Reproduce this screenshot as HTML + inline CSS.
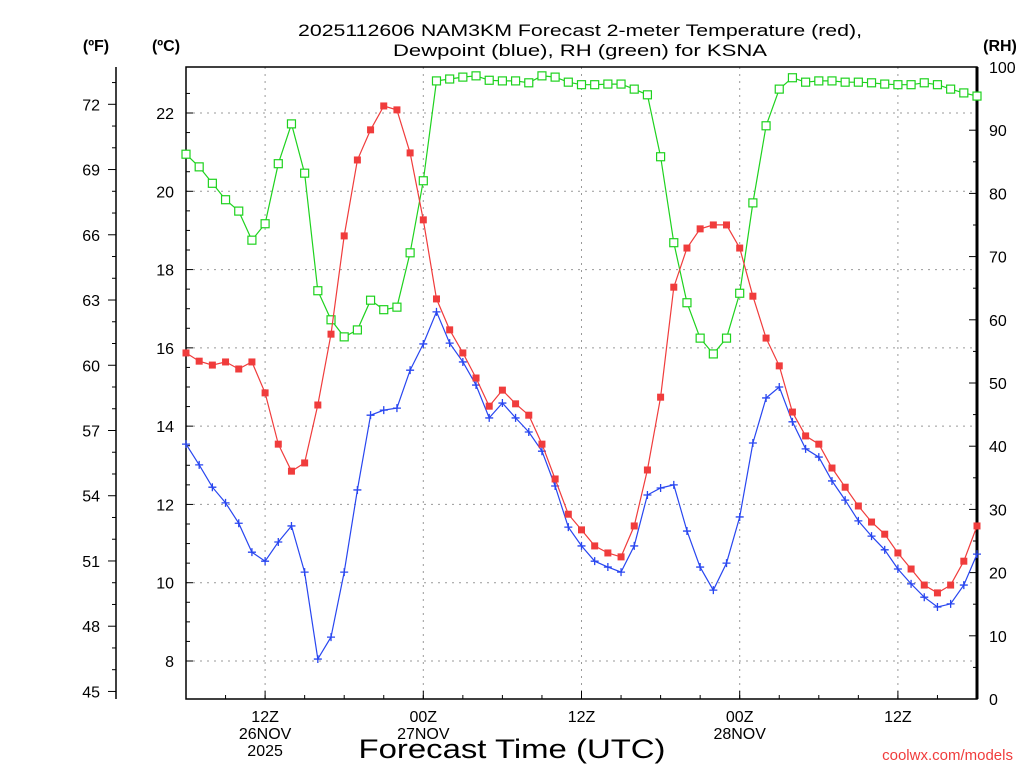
<!DOCTYPE html>
<html><head><meta charset="utf-8"><style>
body{margin:0;background:#fff;}
svg text{font-family:"Liberation Sans",sans-serif;}
</style></head><body>
<svg id="c" width="1024" height="768" xmlns="http://www.w3.org/2000/svg">
<text x="580" y="36" text-anchor="middle" font-size="17" textLength="564" lengthAdjust="spacingAndGlyphs">2025112606 NAM3KM Forecast 2-meter Temperature (red),</text>
<text x="580" y="56" text-anchor="middle" font-size="17" textLength="374" lengthAdjust="spacingAndGlyphs">Dewpoint (blue), RH (green) for KSNA</text>
<text x="96" y="51" text-anchor="middle" font-size="16" font-weight="bold">(ºF)</text>
<text x="166" y="51" text-anchor="middle" font-size="16" font-weight="bold">(ºC)</text>
<text x="1000" y="51" text-anchor="middle" font-size="16" font-weight="bold">(RH)</text>
<text x="512" y="758" text-anchor="middle" font-size="27" textLength="307" lengthAdjust="spacingAndGlyphs">Forecast Time (UTC)</text>
<text x="1013" y="760" text-anchor="end" font-size="15" fill="#f03c3c">coolwx.com/models</text>
<g id="grid"></g><g id="axes"></g><g id="series"></g>
</svg>
<script>
const hours=[];for(let i=0;i<=60;i++)hours.push(i);
const tempC=[15.87,15.66,15.56,15.64,15.46,15.64,14.85,13.54,12.85,13.06,14.54,16.35,18.86,20.8,21.57,22.18,22.08,20.98,19.27,17.25,16.46,15.87,15.23,14.51,14.92,14.57,14.28,13.54,12.65,11.75,11.35,10.94,10.76,10.66,11.45,12.88,14.74,17.55,18.55,19.04,19.14,19.14,18.55,17.32,16.25,15.54,14.36,13.75,13.54,12.93,12.44,11.96,11.55,11.24,10.76,10.35,9.94,9.74,9.94,10.55,11.45];
const dewC=[13.54,13.01,12.44,12.04,11.52,10.78,10.55,11.04,11.45,10.27,8.05,8.61,10.27,12.37,14.28,14.41,14.46,15.43,16.1,16.92,16.12,15.64,15.05,14.21,14.59,14.21,13.85,13.36,12.47,11.42,10.94,10.55,10.4,10.27,10.94,12.24,12.42,12.5,11.32,10.4,9.81,10.5,11.68,13.57,14.72,15.0,14.11,13.42,13.21,12.6,12.11,11.58,11.19,10.84,10.35,9.97,9.63,9.38,9.46,9.94,10.73];
const rh=[86.2,84.2,81.6,79.0,77.2,72.6,75.2,84.7,91.0,83.2,64.6,60.0,57.3,58.4,63.1,61.6,62.0,70.6,82.0,97.8,98.1,98.4,98.6,97.9,97.8,97.8,97.5,98.6,98.4,97.6,97.2,97.2,97.3,97.3,96.5,95.6,85.8,72.2,62.7,57.1,54.6,57.1,64.2,78.5,90.7,96.5,98.3,97.6,97.8,97.8,97.6,97.6,97.5,97.3,97.2,97.2,97.5,97.2,96.5,95.9,95.4];
const cTicks=[8,10,12,14,16,18,20,22];
const fTicks=[45,48,51,54,57,60,63,66,69,72];
const rhTicks=[0,10,20,30,40,50,60,70,80,90,100];
const xTickHours=[6,18,30,42,54];
const xTickLabels=[["12Z","26NOV","2025"],["00Z","27NOV"],["12Z"],["00Z","28NOV"],["12Z"]];

const L=186,R=977,T=67,B=699;
const xs=h=>L+(R-L)*h/60;
const yC=c=>661-(c-8)*(661-113)/14;
const yF=f=>yC((f-32)/1.8);
const yR=r=>B-(B-T)*r/100;
const NS="http://www.w3.org/2000/svg";
function mk(tag,attrs,parent){const e=document.createElementNS(NS,tag);for(const k in attrs)e.setAttribute(k,attrs[k]);parent.appendChild(e);return e;}
const grid=document.getElementById('grid'),axes=document.getElementById('axes'),ser=document.getElementById('series');

cTicks.forEach(c=>{const l=mk('line',{x1:L,x2:R,y1:yC(c),y2:yC(c),stroke:'#999','stroke-dasharray':'2,5'},grid);


const t=mk('text',{x:L-12,y:yC(c)+6,'text-anchor':'end','font-size':16},axes);t.textContent=c;


mk('line',{x1:L,x2:L+7,y1:yC(c),y2:yC(c),stroke:'#000'},axes);});
for(let c=8.5;c<=22.5;c+=0.5){if(c%2)mk('line',{x1:L,x2:L+4,y1:yC(c),y2:yC(c),stroke:'#000'},axes);}
xTickHours.forEach((h,i)=>{const l=mk('line',{x1:xs(h),x2:xs(h),y1:T,y2:B,stroke:'#999','stroke-dasharray':'2,5'},grid);


mk('line',{x1:xs(h),x2:xs(h),y1:B,y2:B-8,stroke:'#000'},axes);
xTickLabels[i].forEach((s,j)=>{const t=mk('text',{x:xs(h),y:722+j*17,'text-anchor':'middle','font-size':16},axes);t.textContent=s;

});});
for(let h=0;h<=60;h+=3)mk('line',{x1:xs(h),x2:xs(h),y1:B,y2:B-4,stroke:'#000'},axes);
mk('line',{x1:116,x2:116,y1:67,y2:699,stroke:'#000','stroke-width':1.5},axes);
fTicks.forEach(f=>{mk('line',{x1:108,x2:116,y1:yF(f),y2:yF(f),stroke:'#000'},axes);
const t=mk('text',{x:100,y:yF(f)+6,'text-anchor':'end','font-size':16},axes);t.textContent=f;

});
for(let f=46;f<=73;f++){if(f%3)mk('line',{x1:112,x2:116,y1:yF(f),y2:yF(f),stroke:'#000'},axes);}
rhTicks.forEach(r=>{mk('line',{x1:R-8,x2:R,y1:yR(r),y2:yR(r),stroke:'#000'},axes);
const t=mk('text',{x:989,y:yR(r)+6,'font-size':16},axes);t.textContent=r;

});
for(let r=5;r<100;r+=10)mk('line',{x1:R-4,x2:R,y1:yR(r),y2:yR(r),stroke:'#000'},axes);
mk('rect',{x:L,y:T,width:R-L,height:B-T,fill:'none',stroke:'#000','stroke-width':1.5},axes);
mk('line',{x1:R,x2:R,y1:T,y2:B,stroke:'#000','stroke-width':3},axes);

function series(vals,yf,color,name,marker){
 const pts=vals.map((v,i)=>xs(hours[i]).toFixed(1)+','+yf(v).toFixed(1)).join(' ');
 const pl=mk('polyline',{points:pts,fill:'none',stroke:color,'stroke-width':1.2},ser);
 
 
 vals.forEach((v,i)=>{const x=xs(hours[i]),y=yf(v);let m;
  if(marker==='fill')m=mk('rect',{x:x-3.5,y:y-3.5,width:7,height:7,fill:color},ser);
  else if(marker==='open')m=mk('rect',{x:x-4,y:y-4,width:8,height:8,fill:'#fff',stroke:color,'stroke-width':1.2},ser);
  else m=mk('path',{d:`M${x-4},${y}H${x+4}M${x},${y-4}V${y+4}`,stroke:color,'stroke-width':1.3},ser);
  
  });
}
series(rh,yR,'#1ed21e','rh','open');
series(dewC,yC,'#2846f0','dewpoint','plus');
series(tempC,yC,'#f03c3c','temperature','fill');
</script>
</body></html>
